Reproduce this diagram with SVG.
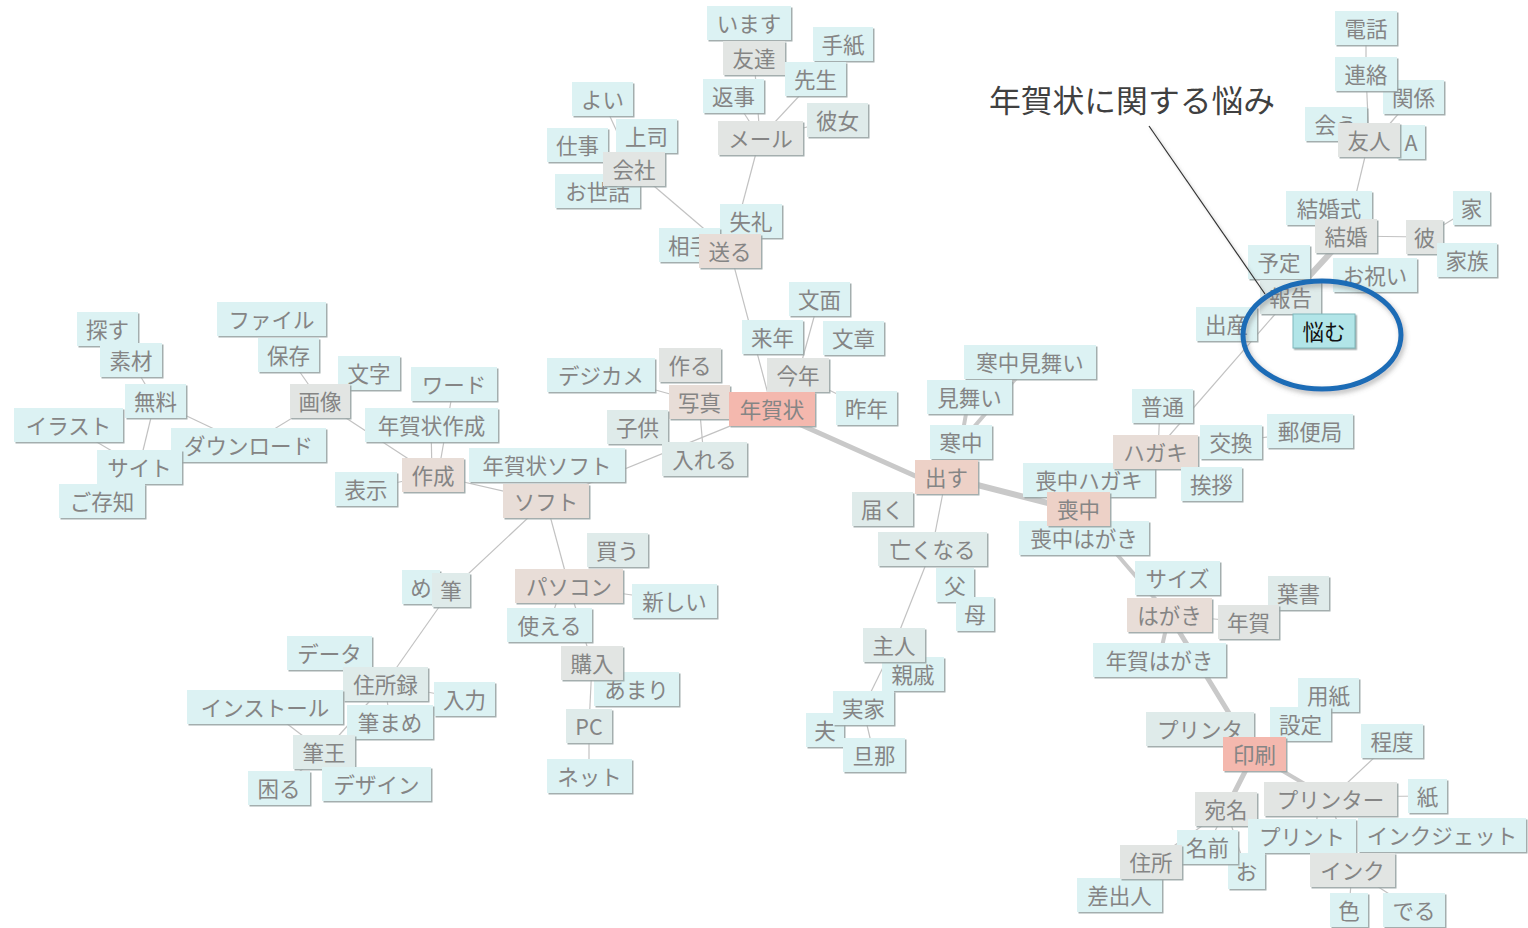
<svg xmlns="http://www.w3.org/2000/svg" width="1528" height="928" viewBox="0 0 1528 928">
<defs>
<filter id="sh" x="-10%" y="-10%" width="125%" height="135%"><feDropShadow dx="1.5" dy="1.5" stdDeviation="0.4" flood-color="#9aa6a6" flood-opacity="0.9"/></filter>
<filter id="esh" x="-20%" y="-20%" width="140%" height="150%"><feDropShadow dx="2" dy="3" stdDeviation="2.5" flood-color="#666" flood-opacity="0.45"/></filter>
<filter id="lsh" x="-20%" y="-20%" width="140%" height="140%"><feDropShadow dx="2" dy="2" stdDeviation="1.5" flood-color="#888" flood-opacity="0.5"/></filter>
</defs>
<style>
.n rect{filter:url(#sh)}
.c rect{fill:#dcf2f3}
.g rect{fill:#e2e5e3}
.m rect{fill:#dfebea}
.b rect{fill:#e8ddd7}
.s rect{fill:#f4b8ae}
.o rect{fill:#edd1c7}
.k rect{fill:#b2e5e8}
.n text{font-family:"Noto Sans CJK JP","Noto Sans",sans-serif;font-size:21.5px;fill:#858585;text-anchor:middle;dominant-baseline:central}
.k text{fill:#111}
.e line{stroke:#c2c2c2;stroke-width:1.2}
.e line.t{stroke:#c9c9c9;stroke-width:5;stroke-linecap:round}
.title{font-family:"Noto Sans CJK JP","Noto Sans",sans-serif;font-size:31px;fill:#404040}
</style>
<rect width="1528" height="928" fill="#fff"/>
<g id="connectors" class="e">
<line x1="634" y1="169" x2="730" y2="251"/>
<line x1="602" y1="99" x2="634" y2="169"/>
<line x1="760" y1="138" x2="730" y2="251"/>
<line x1="733" y1="96" x2="760" y2="138"/>
<line x1="754" y1="58" x2="760" y2="138"/>
<line x1="815" y1="79" x2="760" y2="138"/>
<line x1="837" y1="120" x2="760" y2="138"/>
<line x1="730" y1="251" x2="772" y2="409"/>
<line x1="819" y1="299" x2="798" y2="375"/>
<line x1="798" y1="375" x2="866" y2="408"/>
<line x1="699" y1="402" x2="704" y2="459"/>
<line x1="601" y1="375" x2="699" y2="402"/>
<line x1="546" y1="501" x2="772" y2="409"/>
<line x1="433" y1="475" x2="546" y2="501"/>
<line x1="320" y1="401" x2="433" y2="475"/>
<line x1="320" y1="401" x2="248" y2="445"/>
<line x1="288" y1="355" x2="320" y2="401"/>
<line x1="454" y1="384" x2="438" y2="475"/>
<line x1="431" y1="425" x2="432" y2="475"/>
<line x1="366" y1="489" x2="433" y2="475"/>
<line x1="155" y1="401" x2="248" y2="445"/>
<line x1="155" y1="401" x2="139" y2="467"/>
<line x1="131" y1="360" x2="155" y2="401"/>
<line x1="68" y1="425" x2="139" y2="467"/>
<line x1="546" y1="501" x2="451" y2="590"/>
<line x1="546" y1="501" x2="569" y2="586"/>
<line x1="451" y1="590" x2="385" y2="684"/>
<line x1="385" y1="684" x2="324" y2="752"/>
<line x1="385" y1="684" x2="390" y2="722"/>
<line x1="385" y1="684" x2="464" y2="699"/>
<line x1="265" y1="707" x2="324" y2="752"/>
<line x1="390" y1="722" x2="324" y2="752"/>
<line x1="324" y1="752" x2="279" y2="788"/>
<line x1="562" y1="586" x2="549" y2="625"/>
<line x1="569" y1="586" x2="592" y2="663"/>
<line x1="569" y1="586" x2="674" y2="601"/>
<line x1="592" y1="663" x2="589" y2="726"/>
<line x1="589" y1="726" x2="589" y2="776"/>
<line x1="946" y1="477" x2="932" y2="549"/>
<line x1="932" y1="549" x2="894" y2="645"/>
<line x1="894" y1="645" x2="863" y2="708"/>
<line x1="863" y1="708" x2="874" y2="755"/>
<line x1="1290" y1="297" x2="1155" y2="452"/>
<line x1="1160" y1="406" x2="1158" y2="452"/>
<line x1="1231" y1="442" x2="1310" y2="431"/>
<line x1="1346" y1="236" x2="1424" y2="237"/>
<line x1="1424" y1="237" x2="1471" y2="208"/>
<line x1="1369" y1="140" x2="1346" y2="236"/>
<line x1="1366" y1="74" x2="1369" y2="140"/>
<line x1="1366" y1="28" x2="1366" y2="74"/>
<line x1="1413" y1="97" x2="1380" y2="135"/>
<line x1="1169" y1="615" x2="1248" y2="622"/>
<line x1="1392" y1="741" x2="1330" y2="799"/>
<line x1="1330" y1="797" x2="1427" y2="796"/>
<line x1="1318" y1="799" x2="1316" y2="836"/>
<line x1="1330" y1="799" x2="1352" y2="870"/>
<line x1="1226" y1="809" x2="1151" y2="862"/>
<line x1="1226" y1="809" x2="1207" y2="847"/>
<line x1="1226" y1="809" x2="1246" y2="870"/>
<line x1="1352" y1="870" x2="1349" y2="910"/>
<line x1="1352" y1="870" x2="1414" y2="910"/>
<line class="t" x1="790" y1="420" x2="940" y2="487"/>
<line class="t" x1="950" y1="478" x2="1075" y2="510" style="stroke-width:6"/>
<line class="t" x1="961" y1="442" x2="1030" y2="362" style="stroke-width:4"/>
<line class="t" x1="961" y1="442" x2="969" y2="397" style="stroke-width:4"/>
<line class="t" x1="1078" y1="509" x2="1169" y2="615" style="stroke-width:4"/>
<line class="t" x1="1169" y1="615" x2="1159" y2="660" style="stroke-width:4"/>
<line class="t" x1="1169" y1="615" x2="1254" y2="754"/>
<line class="t" x1="1254" y1="754" x2="1226" y2="809"/>
<line class="t" x1="1254" y1="754" x2="1330" y2="799" style="stroke-width:4"/>
<line class="t" x1="1290" y1="297" x2="1346" y2="236" style="stroke-width:6"/>
</g>
<g id="n001" class="n c"><rect x="707" y="6" width="84" height="34"/><text x="749" y="22">います</text></g>
<g id="n002" class="n c"><rect x="813" y="27" width="60" height="34"/><text x="843" y="43">手紙</text></g>
<g id="n003" class="n g"><rect x="723" y="41" width="62" height="34"/><text x="754" y="57">友達</text></g>
<g id="n004" class="n c"><rect x="785" y="62" width="61" height="34"/><text x="815.5" y="78">先生</text></g>
<g id="n005" class="n c"><rect x="703" y="79" width="61" height="34"/><text x="733.5" y="95">返事</text></g>
<g id="n006" class="n m"><rect x="807" y="103" width="61" height="34"/><text x="837.5" y="119">彼女</text></g>
<g id="n007" class="n g"><rect x="718" y="121" width="85" height="34"/><text x="760.5" y="137">メール</text></g>
<g id="n008" class="n c"><rect x="572" y="82" width="61" height="34"/><text x="602.5" y="98">よい</text></g>
<g id="n009" class="n c"><rect x="616" y="119" width="61" height="34"/><text x="646.5" y="135">上司</text></g>
<g id="n010" class="n c"><rect x="547" y="128" width="61" height="34"/><text x="577.5" y="144">仕事</text></g>
<g id="n011" class="n c"><rect x="555" y="174" width="85" height="34"/><text x="597.5" y="190">お世話</text></g>
<g id="n012" class="n g"><rect x="603" y="152" width="62" height="34"/><text x="634" y="168">会社</text></g>
<g id="n013" class="n c"><rect x="720" y="204" width="62" height="34"/><text x="751" y="220">失礼</text></g>
<g id="n014" class="n c"><rect x="659" y="228" width="61" height="34"/><text x="689.5" y="244">相手</text></g>
<g id="n015" class="n b"><rect x="699" y="234" width="62" height="34"/><text x="730" y="250">送る</text></g>
<g id="n016" class="n c"><rect x="789" y="282" width="61" height="34"/><text x="819.5" y="298">文面</text></g>
<g id="n017" class="n c"><rect x="742" y="320" width="61" height="34"/><text x="772.5" y="336">来年</text></g>
<g id="n018" class="n c"><rect x="823" y="321" width="61" height="34"/><text x="853.5" y="337">文章</text></g>
<g id="n019" class="n c"><rect x="547" y="358" width="108" height="34"/><text x="601" y="374">デジカメ</text></g>
<g id="n020" class="n g"><rect x="659" y="348" width="62" height="34"/><text x="690" y="364">作る</text></g>
<g id="n021" class="n g"><rect x="767" y="358" width="62" height="34"/><text x="798" y="374">今年</text></g>
<g id="n022" class="n b"><rect x="669" y="385" width="61" height="34"/><text x="699.5" y="401">写真</text></g>
<g id="n023" class="n s"><rect x="729" y="392" width="86" height="34"/><text x="772" y="408">年賀状</text></g>
<g id="n024" class="n c"><rect x="836" y="391" width="61" height="34"/><text x="866.5" y="407">昨年</text></g>
<g id="n025" class="n m"><rect x="607" y="410" width="61" height="34"/><text x="637.5" y="426">子供</text></g>
<g id="n026" class="n m"><rect x="662" y="442" width="85" height="34"/><text x="704.5" y="458">入れる</text></g>
<g id="n027" class="n m"><rect x="852" y="492" width="61" height="34"/><text x="882.5" y="508">届く</text></g>
<g id="n028" class="n c"><rect x="77" y="312" width="61" height="34"/><text x="107.5" y="328">探す</text></g>
<g id="n029" class="n c"><rect x="100" y="343" width="62" height="34"/><text x="131" y="359">素材</text></g>
<g id="n030" class="n c"><rect x="125" y="384" width="61" height="34"/><text x="155.5" y="400">無料</text></g>
<g id="n031" class="n c"><rect x="14" y="408" width="109" height="34"/><text x="68.5" y="424">イラスト</text></g>
<g id="n032" class="n c"><rect x="171" y="428" width="155" height="34"/><text x="248.5" y="444">ダウンロード</text></g>
<g id="n033" class="n c"><rect x="97" y="450" width="85" height="34"/><text x="139.5" y="466">サイト</text></g>
<g id="n034" class="n c"><rect x="59" y="484" width="86" height="34"/><text x="102" y="500">ご存知</text></g>
<g id="n035" class="n c"><rect x="217" y="302" width="109" height="34"/><text x="271.5" y="318">ファイル</text></g>
<g id="n036" class="n c"><rect x="258" y="338" width="61" height="34"/><text x="288.5" y="354">保存</text></g>
<g id="n037" class="n c"><rect x="338" y="356" width="62" height="34"/><text x="369" y="372">文字</text></g>
<g id="n038" class="n g"><rect x="290" y="384" width="60" height="34"/><text x="320" y="400">画像</text></g>
<g id="n039" class="n c"><rect x="411" y="367" width="86" height="34"/><text x="454" y="383">ワード</text></g>
<g id="n040" class="n c"><rect x="365" y="408" width="133" height="34"/><text x="431.5" y="424">年賀状作成</text></g>
<g id="n041" class="n c"><rect x="335" y="472" width="62" height="34"/><text x="366" y="488">表示</text></g>
<g id="n042" class="n b"><rect x="402" y="458" width="62" height="34"/><text x="433" y="474">作成</text></g>
<g id="n043" class="n c"><rect x="469" y="448" width="156" height="34"/><text x="547" y="464">年賀状ソフト</text></g>
<g id="n044" class="n b"><rect x="503" y="484" width="86" height="34"/><text x="546" y="500">ソフト</text></g>
<g id="n045" class="n m"><rect x="587" y="533" width="61" height="34"/><text x="617.5" y="549">買う</text></g>
<g id="n046" class="n c"><rect x="402" y="570" width="38" height="34"/><text x="421" y="586">め</text></g>
<g id="n047" class="n m"><rect x="432" y="573" width="38" height="34"/><text x="451" y="589">筆</text></g>
<g id="n048" class="n b"><rect x="515" y="569" width="108" height="34"/><text x="569" y="585">パソコン</text></g>
<g id="n049" class="n c"><rect x="632" y="584" width="85" height="34"/><text x="674.5" y="600">新しい</text></g>
<g id="n050" class="n c"><rect x="507" y="608" width="85" height="34"/><text x="549.5" y="624">使える</text></g>
<g id="n051" class="n c"><rect x="287" y="636" width="85" height="34"/><text x="329.5" y="652">データ</text></g>
<g id="n052" class="n c"><rect x="594" y="672" width="85" height="34"/><text x="636.5" y="688">あまり</text></g>
<g id="n053" class="n g"><rect x="561" y="646" width="62" height="34"/><text x="592" y="662">購入</text></g>
<g id="n054" class="n m"><rect x="343" y="667" width="85" height="34"/><text x="385.5" y="683">住所録</text></g>
<g id="n055" class="n c"><rect x="434" y="682" width="61" height="34"/><text x="464.5" y="698">入力</text></g>
<g id="n056" class="n c"><rect x="187" y="690" width="156" height="34"/><text x="265" y="706">インストール</text></g>
<g id="n057" class="n c"><rect x="347" y="705" width="86" height="34"/><text x="390" y="721">筆まめ</text></g>
<g id="n058" class="n m"><rect x="566" y="709" width="46" height="34"/><text x="589" y="725">PC</text></g>
<g id="n059" class="n m"><rect x="293" y="735" width="62" height="34"/><text x="324" y="751">筆王</text></g>
<g id="n060" class="n c"><rect x="547" y="759" width="85" height="34"/><text x="589.5" y="775">ネット</text></g>
<g id="n061" class="n c"><rect x="248" y="771" width="62" height="34"/><text x="279" y="787">困る</text></g>
<g id="n062" class="n c"><rect x="322" y="767" width="109" height="34"/><text x="376.5" y="783">デザイン</text></g>
<g id="n063" class="n c"><rect x="964" y="345" width="132" height="34"/><text x="1030" y="361">寒中見舞い</text></g>
<g id="n064" class="n c"><rect x="927" y="380" width="85" height="34"/><text x="969.5" y="396">見舞い</text></g>
<g id="n065" class="n c"><rect x="930" y="425" width="62" height="34"/><text x="961" y="441">寒中</text></g>
<g id="n066" class="n o"><rect x="915" y="460" width="63" height="34"/><text x="946.5" y="476">出す</text></g>
<g id="n067" class="n c"><rect x="1023" y="463" width="132" height="34"/><text x="1089" y="479">喪中ハガキ</text></g>
<g id="n068" class="n c"><rect x="1019" y="521" width="130" height="34"/><text x="1084" y="537">喪中はがき</text></g>
<g id="n069" class="n o"><rect x="1047" y="492" width="63" height="34"/><text x="1078.5" y="508">喪中</text></g>
<g id="n070" class="n c"><rect x="1132" y="389" width="61" height="34"/><text x="1162.5" y="405">普通</text></g>
<g id="n071" class="n b"><rect x="1113" y="435" width="85" height="34"/><text x="1155.5" y="451">ハガキ</text></g>
<g id="n072" class="n c"><rect x="1200" y="425" width="62" height="34"/><text x="1231" y="441">交換</text></g>
<g id="n073" class="n c"><rect x="1267" y="414" width="86" height="34"/><text x="1310" y="430">郵便局</text></g>
<g id="n074" class="n c"><rect x="1181" y="467" width="61" height="34"/><text x="1211.5" y="483">挨拶</text></g>
<g id="n075" class="n m"><rect x="878" y="532" width="109" height="34"/><text x="932.5" y="548">亡くなる</text></g>
<g id="n076" class="n c"><rect x="936" y="568" width="38" height="34"/><text x="955" y="584">父</text></g>
<g id="n077" class="n c"><rect x="956" y="597" width="38" height="34"/><text x="975" y="613">母</text></g>
<g id="n079" class="n c"><rect x="882" y="657" width="62" height="34"/><text x="913" y="673">親戚</text></g>
<g id="n078" class="n m"><rect x="863" y="628" width="62" height="34"/><text x="894" y="644">主人</text></g>
<g id="n081" class="n c"><rect x="806" y="713" width="38" height="34"/><text x="825" y="729">夫</text></g>
<g id="n080" class="n c"><rect x="833" y="691" width="61" height="34"/><text x="863.5" y="707">実家</text></g>
<g id="n082" class="n c"><rect x="843" y="738" width="62" height="34"/><text x="874" y="754">旦那</text></g>
<g id="n083" class="n c"><rect x="1335" y="11" width="62" height="34"/><text x="1366" y="27">電話</text></g>
<g id="n084" class="n c"><rect x="1383" y="80" width="61" height="34"/><text x="1413.5" y="96">関係</text></g>
<g id="n085" class="n c"><rect x="1335" y="57" width="62" height="34"/><text x="1366" y="73">連絡</text></g>
<g id="n086" class="n c"><rect x="1305" y="107" width="62" height="34"/><text x="1336" y="123">会う</text></g>
<g id="n087" class="n c"><rect x="1397" y="125" width="28" height="34"/><text x="1411" y="141">A</text></g>
<g id="n088" class="n g"><rect x="1338" y="123" width="62" height="34"/><text x="1369" y="139">友人</text></g>
<g id="n089" class="n c"><rect x="1286" y="191" width="86" height="34"/><text x="1329" y="207">結婚式</text></g>
<g id="n090" class="n c"><rect x="1453" y="191" width="37" height="34"/><text x="1471.5" y="207">家</text></g>
<g id="n091" class="n g"><rect x="1315" y="219" width="62" height="34"/><text x="1346" y="235">結婚</text></g>
<g id="n092" class="n g"><rect x="1406" y="220" width="37" height="34"/><text x="1424.5" y="236">彼</text></g>
<g id="n093" class="n c"><rect x="1437" y="243" width="60" height="34"/><text x="1467" y="259">家族</text></g>
<g id="n094" class="n c"><rect x="1248" y="245" width="62" height="34"/><text x="1279" y="261">予定</text></g>
<g id="n095" class="n c"><rect x="1333" y="258" width="84" height="34"/><text x="1375" y="274">お祝い</text></g>
<g id="n096" class="n m"><rect x="1260" y="280" width="61" height="34"/><text x="1290.5" y="296">報告</text></g>
<g id="n097" class="n c"><rect x="1196" y="307" width="61" height="34"/><text x="1226.5" y="323">出産</text></g>
<g id="n099" class="n c"><rect x="1135" y="561" width="85" height="34"/><text x="1177.5" y="577">サイズ</text></g>
<g id="n100" class="n m"><rect x="1268" y="576" width="61" height="34"/><text x="1298.5" y="592">葉書</text></g>
<g id="n101" class="n b"><rect x="1127" y="598" width="85" height="34"/><text x="1169.5" y="614">はがき</text></g>
<g id="n102" class="n g"><rect x="1218" y="605" width="61" height="34"/><text x="1248.5" y="621">年賀</text></g>
<g id="n103" class="n c"><rect x="1093" y="643" width="133" height="34"/><text x="1159.5" y="659">年賀はがき</text></g>
<g id="n104" class="n c"><rect x="1298" y="678" width="61" height="34"/><text x="1328.5" y="694">用紙</text></g>
<g id="n105" class="n c"><rect x="1270" y="707" width="61" height="34"/><text x="1300.5" y="723">設定</text></g>
<g id="n106" class="n m"><rect x="1146" y="712" width="108" height="34"/><text x="1200" y="728">プリンタ</text></g>
<g id="n107" class="n c"><rect x="1361" y="724" width="62" height="34"/><text x="1392" y="740">程度</text></g>
<g id="n108" class="n s"><rect x="1223" y="737" width="63" height="34"/><text x="1254.5" y="753">印刷</text></g>
<g id="n109" class="n g"><rect x="1264" y="782" width="133" height="34"/><text x="1330.5" y="798">プリンター</text></g>
<g id="n110" class="n c"><rect x="1408" y="779" width="39" height="34"/><text x="1427.5" y="795">紙</text></g>
<g id="n111" class="n g"><rect x="1195" y="792" width="62" height="34"/><text x="1226" y="808">宛名</text></g>
<g id="n112" class="n c"><rect x="1358" y="818" width="168" height="34"/><text x="1442" y="834">インクジェット</text></g>
<g id="n113" class="n c"><rect x="1248" y="819" width="108" height="34"/><text x="1302" y="835">プリント</text></g>
<g id="n115" class="n c"><rect x="1228" y="853" width="37" height="36"/><text x="1246.5" y="870">お</text></g>
<g id="n114" class="n c"><rect x="1177" y="830" width="61" height="34"/><text x="1207.5" y="846">名前</text></g>
<g id="n117" class="n c"><rect x="1077" y="878" width="85" height="34"/><text x="1119.5" y="894">差出人</text></g>
<g id="n116" class="n g"><rect x="1120" y="845" width="62" height="34"/><text x="1151" y="861">住所</text></g>
<g id="n118" class="n g"><rect x="1310" y="853" width="85" height="34"/><text x="1352.5" y="869">インク</text></g>
<g id="n119" class="n c"><rect x="1330" y="893" width="38" height="34"/><text x="1349" y="909">色</text></g>
<g id="n120" class="n c"><rect x="1383" y="893" width="62" height="34"/><text x="1414" y="909">でる</text></g>
<g id="n098" class="n k"><rect x="1293" y="314" width="62" height="34" style="stroke:#7fb7bb;stroke-width:1"/><text x="1324" y="330">悩む</text></g>
<g id="callout">
<ellipse cx="1322" cy="335" rx="79" ry="54" fill="none" stroke="#1a6cb6" stroke-width="5" filter="url(#esh)"/>
<line x1="1149" y1="126" x2="1265" y2="294" stroke="#333" stroke-width="1.2" filter="url(#lsh)"/>
<text class="title" x="989" y="112" textLength="286" lengthAdjust="spacingAndGlyphs">年賀状に関する悩み</text>
</g>
</svg>
